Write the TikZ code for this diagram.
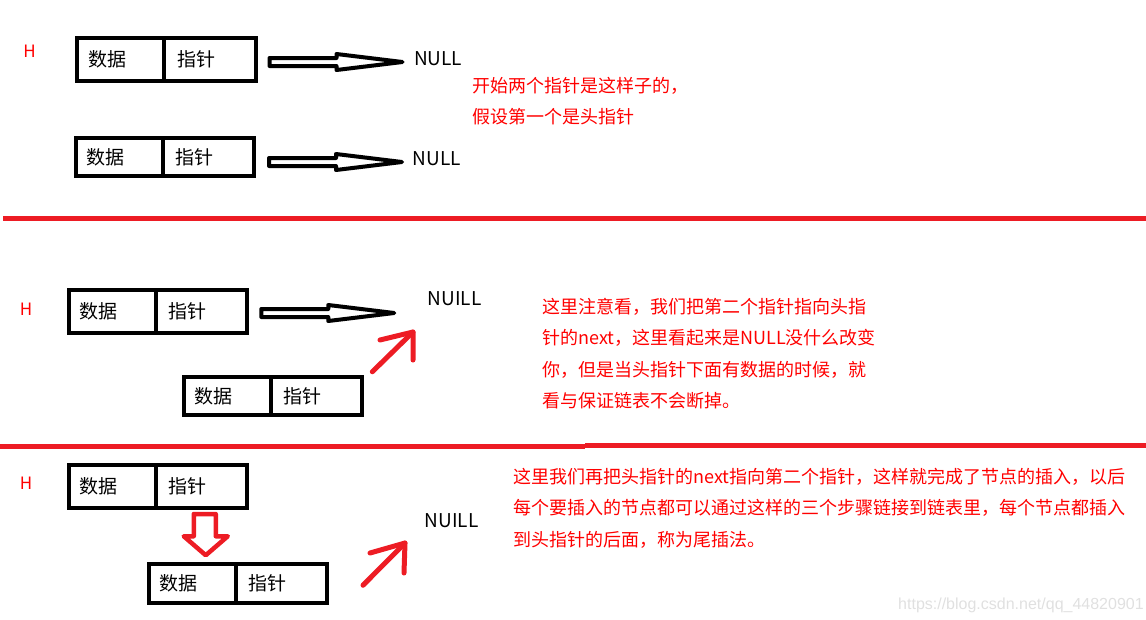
\documentclass[tikz,border=0pt]{standalone}
\usepackage{fontspec}
\setmainfont{Noto Sans CJK SC}
\newfontfamily\markfont{Liberation Sans}
\usetikzlibrary{positioning,calc}
\definecolor{paintred}{RGB}{237,28,36}
\definecolor{inkred}{RGB}{255,0,0}
\tikzset{
    cell/.style={rectangle,draw,line width=4pt,outer sep=0pt,minimum height=43pt,align=left,font=\fontsize{19}{22}\selectfont},
    low/.style={minimum height=38.5pt},
    datacell/.style={cell,text width=65pt,inner xsep=11pt,minimum width=87pt},
    ptrcell/.style={cell,text width=65.5pt,inner xsep=13pt,minimum width=91.5pt},
    nulllabel/.style={inner sep=0pt,anchor=west,font=\fontsize{19}{22}\selectfont},
    headlabel/.style={inner sep=0pt,text=inkred,font=\fontsize{17}{19}\selectfont},
    note/.style={inner sep=0pt,anchor=north west,align=left,text=inkred,font=\fontsize{18}{31.5}\selectfont},
    hollow/.style={draw,line width=4pt,line join=round},
    redhollow/.style={hollow,draw=paintred,line width=4.5pt},
    redarrow/.style={draw=paintred,line width=5pt,line cap=round,line join=round},
    divider/.style={paintred,line width=5pt},
}
\newcommand\hollowarrow[2]{%
    \draw[hollow] ($(#1)+(0,-4)$) -- ($(#2)+(-66,-4)$) -- ($(#2)+(-66,-8)$) -- (#2)
        -- ($(#2)+(-66,8)$) -- ($(#2)+(-66,4)$) -- ($(#1)+(0,4)$) -- cycle;}

\begin{document}
\begin{tikzpicture}[x=1pt,y=-1pt]
    \useasboundingbox (0,0) rectangle (1146,619);

    \node[headlabel] (h1) at (29.5,51) {H};
    \node[datacell] (d1) at (120.5,59.5) {数据};
    \node[ptrcell, right=0pt of d1] (p1) {指针};
    \node[datacell,low] (d2) at (119,157) {数据};
    \node[ptrcell,low, right=0pt of d2] (p2) {指针};
    \node[nulllabel] (n1) at (414,59) {NULL};
    \node[nulllabel] (n2) at (412.5,159) {NULL};
    \node[note] (c1) at (472,77) {开始两个指针是这样子的，\\假设第一个是头指针};

    \coordinate (t1) at ($(p1.east)+(14,2.5)$);
    \coordinate (e1) at ($(t1)+(133,0)$);
    \coordinate (t2) at ($(p2.east)+(15,5)$);
    \coordinate (e2) at ($(t2)+(133,0)$);
    \hollowarrow{t1}{e1}
    \hollowarrow{t2}{e2}

    \draw[divider] (3,218.5) -- (1146,218.5);

    \node[headlabel] (h2) at (26,309.5) {H};
    \node[datacell] (d3) at (112.25,311) {数据};
    \node[ptrcell, right=0pt of d3] (p3) {指针};
    \node[datacell,low] (d4) at (227.3,396) {数据};
    \node[ptrcell,low, right=0pt of d4] (p4) {指针};
    \node[nulllabel] (n3) at (427.5,298.5) {NUILL};
    \node[note] (c2) at (542,298) {这里注意看，我们把第二个指针指向头指\\针的next，这里看起来是NULL没什么改变\\你，但是当头指针下面有数据的时候，就\\看与保证链表不会断掉。};

    \coordinate (t3) at ($(p3.east)+(14,2)$);
    \coordinate (e3) at ($(t3)+(133,0)$);
    \hollowarrow{t3}{e3}
    \coordinate (r1s) at ($(p4.north east)+(10,-5)$);
    \coordinate (r1e) at ($(n3.west)+(-14.5,33.5)$);
    \draw[redarrow] (r1s) -- (r1e);
    \draw[redarrow] ($(r1e)+(-33,8)$) -- (r1e) -- ($(r1e)+(0,28)$);

    \draw[divider] (0,446.5) -- (585,446.5) (585,445.5) -- (1146,445.5);

    \node[headlabel] (h3) at (26,483.5) {H};
    \node[datacell] (d5) at (112.25,486) {数据};
    \node[ptrcell, right=0pt of d5] (p5) {指针};
    \node[datacell,low] (d6) at (192,583.5) {数据};
    \node[ptrcell,low, right=0pt of d6] (p6) {指针};
    \node[nulllabel] (n4) at (424.5,521) {NUILL};
    \node[note] (c3) at (513,468) {这里我们再把头指针的next指向第二个指针，这样就完成了节点的插入，以后\\每个要插入的节点都可以通过这样的三个步骤链接到链表里，每个节点都插入\\到头指针的后面，称为尾插法。};

    \coordinate (s5) at ($(p5.south west)+(49,6.5)$);
    \coordinate (e5) at ($(s5|-p6.north)+(1,-9)$);
    \draw[redhollow] ($(s5)+(-11,0)$) -- ($(s5)+(11,0)$) -- ($(e5)+(10,-19)$) -- ($(e5)+(22,-19)$)
        -- (e5) -- ($(e5)+(-22,-19)$) -- ($(e5)+(-12,-19)$) -- cycle;
    \coordinate (r2s) at ($(p6.north east)+(36,21)$);
    \coordinate (r2e) at ($(n4.west)+(-19.5,22)$);
    \draw[redarrow] (r2s) -- (r2e);
    \draw[redarrow] ($(r2e)+(-35,10)$) -- (r2e) -- ($(r2e)+(-1,30)$);

    \node[anchor=west,inner sep=0pt,text=black!12,font=\markfont\fontsize{16}{18}\selectfont] (wm) at (898,605) {https://blog.csdn.net/qq\_44820901};
\end{tikzpicture}
\end{document}
